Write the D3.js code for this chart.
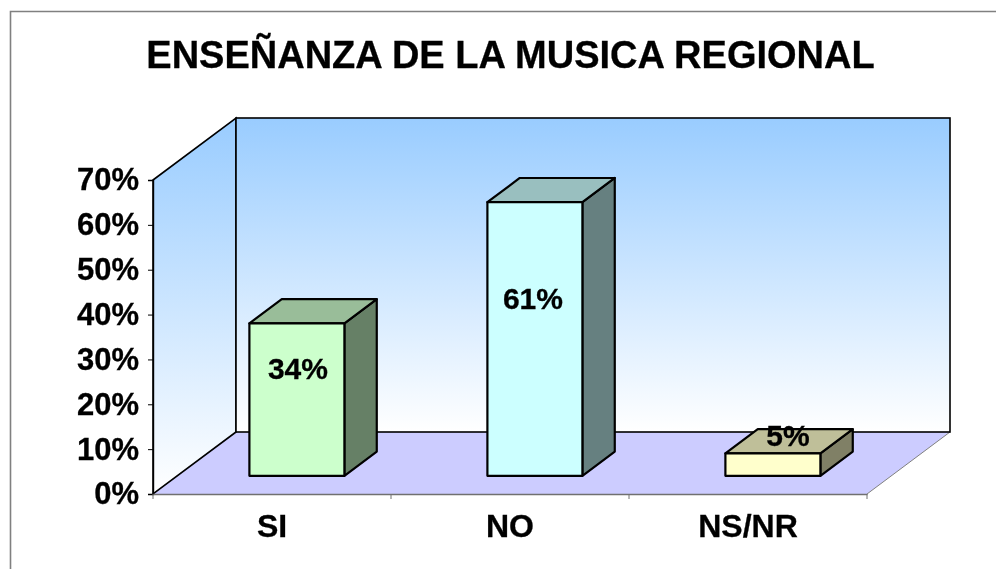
<!DOCTYPE html>
<html>
<head>
<meta charset="utf-8">
<script src="https://cdn.jsdelivr.net/npm/d3@7/dist/d3.min.js"></script>
<style>
html,body{margin:0;padding:0;background:#fff;overflow:hidden}
svg{display:block;filter:blur(0.35px)}
text{font-family:"Liberation Sans",Arial,sans-serif;font-weight:bold;fill:#000;stroke:#000;stroke-width:0.3px}
</style>
</head>
<body>
<svg id="chart" width="996" height="569"></svg>
<script>
const chartTitle = "ENSEÑANZA DE LA MUSICA REGIONAL";
const categories = ["SI", "NO", "NS/NR"];
const values = [34, 61, 5];
const valueLabels = ["34%", "61%", "5%"];
const yTicks = [0, 10, 20, 30, 40, 50, 60, 70];
const frontColors = ["#CCFFCC", "#CCFFFF", "#FFFFCC"];
const topColors = ["#99BD99", "#99BFBF", "#BFBF99"];
const sideColors = ["#668066", "#668080", "#808066"];

const svg = d3.select("#chart");
const x = d3.scaleBand().domain(categories).range([153, 867]);
const y = d3.scaleLinear().domain([0, 70]).range([494, 180]);
const depth = {dx: 83, dy: -62};
const barW = 95, barDepth = 0.39, barOff = 0.3;
const pts = a => a.map(p => p.join(",")).join(" ");

const defs = svg.append("defs");
function grad(id, y1, y2) {
  const g = defs.append("linearGradient").attr("id", id)
    .attr("gradientUnits", "userSpaceOnUse")
    .attr("x1", 0).attr("x2", 0).attr("y1", y1).attr("y2", y2);
  g.append("stop").attr("offset", 0).attr("stop-color", "#99CCFF");
  g.append("stop").attr("offset", 1).attr("stop-color", "#FFFFFF");
}
grad("gBack", y(70) + depth.dy, y(0) + depth.dy);
grad("gLeft", y(70) + depth.dy, y(0));

// outer frame
svg.append("path").attr("d", "M10.5,569V11.5H996").attr("fill", "none").attr("stroke", "#808080").attr("stroke-width", 1.6);

const x0 = x.range()[0], x1 = x.range()[1], yb = y(0), yt = y(70);

// floor
svg.append("polygon")
  .attr("points", pts([[x0, yb], [x1, yb], [x1 + depth.dx, yb + depth.dy], [x0 + depth.dx, yb + depth.dy]]))
  .attr("fill", "#CCCCFF");
svg.append("line").attr("x1", x1).attr("y1", yb).attr("x2", x1 + depth.dx).attr("y2", yb + depth.dy)
  .attr("stroke", "#808080").attr("stroke-width", 1);

// left wall
svg.append("polygon")
  .attr("points", pts([[x0, yb], [x0, yt], [x0 + depth.dx, yt + depth.dy], [x0 + depth.dx, yb + depth.dy]]))
  .attr("fill", "url(#gLeft)").attr("stroke", "#000").attr("stroke-width", 1.6);
// back wall
svg.append("rect")
  .attr("x", x0 + depth.dx).attr("y", yt + depth.dy)
  .attr("width", x1 - x0).attr("height", yb - yt)
  .attr("fill", "url(#gBack)").attr("stroke", "#000").attr("stroke-width", 1.6);

// y axis
const yAxis = svg.append("g").attr("transform", `translate(${x0},0)`)
  .call(d3.axisLeft(y).tickValues(yTicks).tickSize(5).tickPadding(9).tickFormat(d => d + "%"));
yAxis.select(".domain").attr("stroke", "#000").attr("stroke-width", 1.4);
yAxis.selectAll(".tick line").attr("stroke", "#000").attr("stroke-width", 1);
yAxis.selectAll("text").style("font-size", "31px").attr("fill", "#000")
  .style("font-family", '"Liberation Sans",Arial,sans-serif').style("font-weight", "bold");

// x axis
const xAxis = svg.append("g").attr("transform", `translate(0,${yb})`)
  .call(d3.axisBottom(x).tickSize(0).tickPadding(20));
xAxis.select(".domain").attr("stroke", "#707070").attr("stroke-width", 1.6);
xAxis.selectAll("text").style("font-size", "32px").attr("fill", "#000").attr("dy", "0.71em")
  .style("font-family", '"Liberation Sans",Arial,sans-serif').style("font-weight", "bold");
svg.append("g").selectAll("line").data(d3.range(categories.length + 1)).join("line")
  .attr("x1", i => x0 + i * x.bandwidth()).attr("x2", i => x0 + i * x.bandwidth())
  .attr("y1", yb).attr("y2", yb + 5).attr("stroke", "#707070").attr("stroke-width", 1);

// bars
const bars = svg.append("g").selectAll("g").data(categories).join("g");
const off = {dx: depth.dx * barOff, dy: depth.dy * barOff};
const bd = {dx: depth.dx * barDepth, dy: depth.dy * barDepth};
const labelDx = [1, -2, 15], labelDy = [56, 107, -7];
bars.each(function (c, i) {
  const g = d3.select(this);
  const left = x(c) + (x.bandwidth() - barW) / 2 + off.dx;
  const right = left + barW;
  const bot = y(0) + off.dy + 0.4;
  const top = bot - (y(0) - y(values[i]));
  const common = s => s.attr("stroke", "#000").attr("stroke-width", 2.2).attr("stroke-linejoin", "round");
  g.append("polygon").attr("points", pts([[right, bot], [right, top], [right + bd.dx, top + bd.dy], [right + bd.dx, bot + bd.dy]]))
    .attr("fill", sideColors[i]).call(common);
  g.append("polygon").attr("points", pts([[left, top], [right, top], [right + bd.dx, top + bd.dy], [left + bd.dx, top + bd.dy]]))
    .attr("fill", topColors[i]).call(common);
  g.append("rect").attr("x", left).attr("y", top).attr("width", barW).attr("height", bot - top)
    .attr("fill", frontColors[i]).call(common);
  g.append("text").attr("x", left + barW / 2 + labelDx[i]).attr("y", top + labelDy[i])
    .attr("text-anchor", "middle").style("font-size", "30px").text(valueLabels[i]);
});

// title
svg.append("text").attr("x", 510.5).attr("y", 68).attr("text-anchor", "middle")
  .style("font-size", "38px").text(chartTitle);
</script>
</body>
</html>
